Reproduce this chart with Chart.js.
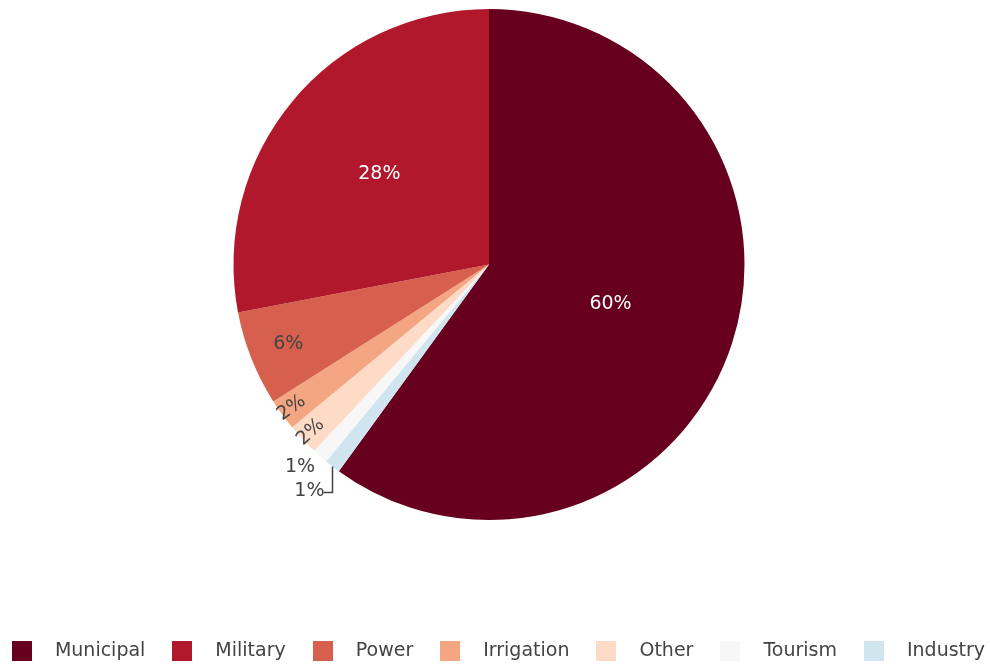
<!DOCTYPE html>
<html>
<head>
<meta charset="utf-8">
<title>Water use by sector</title>
<script src="https://cdn.jsdelivr.net/npm/chart.js@4/dist/chart.umd.min.js"></script>
<style>
  html, body { margin: 0; padding: 0; background: #ffffff; }
  #wrap { width: 990px; height: 664px; }
</style>
</head>
<body>
<div id="wrap"><canvas id="pie" width="990" height="664"></canvas></div>
<script>
// Sectors in legend order, with their shares of total use (%)
const categories = ['Municipal', 'Military', 'Power', 'Irrigation', 'Other', 'Tourism', 'Industry'];
const shares = [60, 28, 6, 2, 2, 1, 1];

// Slice colours (diverging red-blue ramp)
const colors = ['#67001f', '#b2182b', '#d6604d', '#f4a582', '#fddbc7', '#f7f7f7', '#d1e5f0'];

// Slices run anticlockwise from 12 o'clock after the first one,
// so the drawing order puts the first sector first and the rest reversed.
const drawOrder = [0, 6, 5, 4, 3, 2, 1];

// How each percentage label sits on its slice
const labelStyle = [
  { mode: 'inside', r: 0.50, color: '#ffffff' },
  { mode: 'inside', r: 0.557, color: '#ffffff' },
  { mode: 'inside', r: 0.845, color: '#444444' },
  { mode: 'radial', r: 0.955, color: '#444444' },
  { mode: 'radial', r: 0.958, color: '#444444' },
  { mode: 'outside', dx: -20, dy: 11, color: '#444444' },
  { mode: 'outside', dx: -23, dy: 25, color: '#444444', leader: true }
];

const FONT = '"DejaVu Sans", Verdana, sans-serif';
const total = shares.reduce((a, b) => a + b, 0);

const sliceLabels = {
  id: 'sliceLabels',
  afterDatasetsDraw(chart) {
    const ctx = chart.ctx;
    const meta = chart.getDatasetMeta(0);
    ctx.save();
    ctx.font = '19px ' + FONT;
    ctx.textAlign = 'center';
    ctx.textBaseline = 'middle';
    meta.data.forEach((arc, i) => {
      const cat = drawOrder[i];
      const st = labelStyle[cat];
      const p = arc.getProps(['x', 'y', 'startAngle', 'endAngle', 'outerRadius'], true);
      const mid = (p.startAngle + p.endAngle) / 2;
      const text = Math.round(shares[cat] / total * 100) + '%';
      ctx.fillStyle = st.color;
      if (st.mode === 'inside') {
        const r = p.outerRadius * st.r;
        ctx.fillText(text, p.x + Math.cos(mid) * r, p.y + Math.sin(mid) * r);
      } else if (st.mode === 'radial') {
        const r = p.outerRadius * st.r;
        ctx.save();
        ctx.translate(p.x + Math.cos(mid) * r, p.y + Math.sin(mid) * r);
        ctx.rotate(mid + Math.PI);
        ctx.fillText(text, 0, 0);
        ctx.restore();
      } else {
        const ex = p.x + Math.cos(mid) * p.outerRadius;
        const ey = p.y + Math.sin(mid) * p.outerRadius;
        const tx = ex + st.dx;
        const ty = ey + st.dy;
        ctx.fillText(text, tx, ty);
        if (st.leader) {
          const w = ctx.measureText(text).width;
          ctx.strokeStyle = '#444444';
          ctx.lineWidth = 1.5;
          ctx.beginPath();
          ctx.moveTo(Math.round(ex) + 0.5, ey);
          ctx.lineTo(Math.round(ex) + 0.5, ty + 1);
          ctx.lineTo(tx + w / 2 - 1, ty + 1);
          ctx.stroke();
        }
      }
    });
    ctx.restore();
  }
};

// Legend row along the bottom edge: square swatch, gap, name
const bottomLegend = {
  id: 'bottomLegend',
  afterDraw(chart) {
    const ctx = chart.ctx;
    const box = 20, gapText = 43, gapItem = 27;
    ctx.save();
    ctx.font = '19px ' + FONT;
    ctx.textBaseline = 'middle';
    ctx.textAlign = 'left';
    const widths = categories.map(c => ctx.measureText(c).width);
    let totalW = 0;
    widths.forEach((w, i) => { totalW += gapText + w + (i < widths.length - 1 ? gapItem : 0); });
    let x = 498.5 - totalW / 2;
    const cy = 651;
    categories.forEach((c, i) => {
      ctx.fillStyle = colors[i];
      ctx.fillRect(Math.round(x), cy - box / 2, box, box);
      ctx.fillStyle = '#444444';
      ctx.fillText(c, x + gapText, cy);
      x += gapText + widths[i] + gapItem;
    });
    ctx.restore();
  }
};

new Chart(document.getElementById('pie'), {
  type: 'pie',
  data: {
    labels: drawOrder.map(i => categories[i]),
    datasets: [{
      data: drawOrder.map(i => shares[i]),
      backgroundColor: drawOrder.map(i => colors[i]),
      borderWidth: 0
    }]
  },
  options: {
    responsive: false,
    animation: false,
    rotation: 0,
    layout: { padding: { top: 9, bottom: 144, left: 0, right: 12 } },
    plugins: {
      legend: { display: false },
      tooltip: { enabled: false }
    },
    events: []
  },
  plugins: [sliceLabels, bottomLegend]
});
</script>
</body>
</html>
